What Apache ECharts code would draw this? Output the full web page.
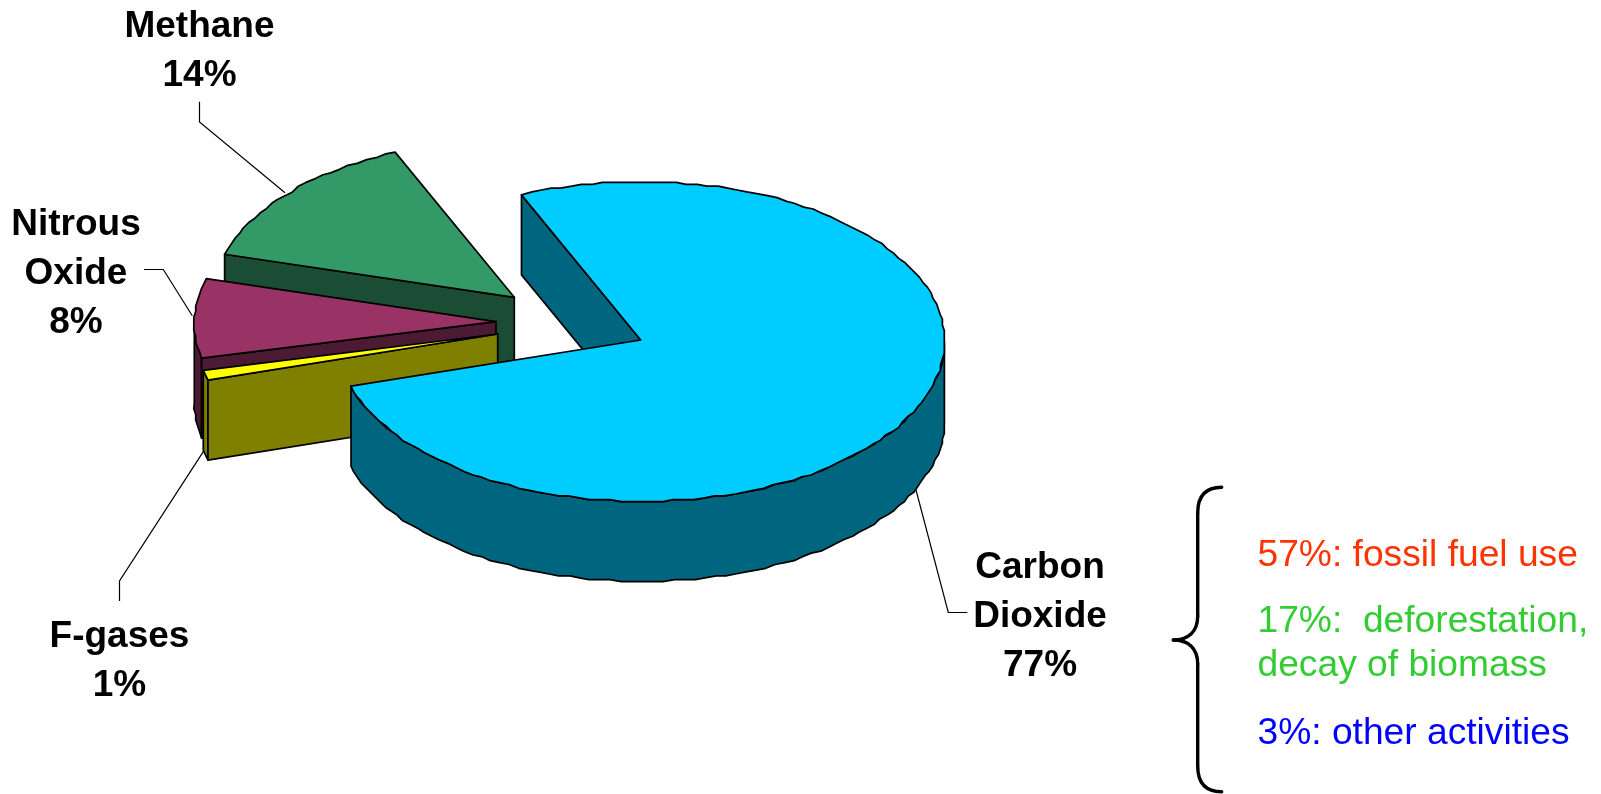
<!DOCTYPE html>
<html>
<head>
<meta charset="utf-8">
<title>Greenhouse gas emissions by gas</title>
<script src="https://cdn.jsdelivr.net/npm/echarts@6/dist/echarts.min.js"></script>
<style>
  html, body { margin: 0; padding: 0; background: #fff; }
  #chart { width: 1601px; height: 794px; }
</style>
</head>
<body>
<div id="chart"></div>
<script>
// Gas shares in percent, listed clockwise around the pie
var gases = ['Carbon Dioxide', 'F-gases', 'Nitrous Oxide', 'Methane'];
var shares = [77, 1, 8, 14];

// Label wording per gas
var labelLines = [['Carbon', 'Dioxide'], ['F-gases'], ['Nitrous', 'Oxide'], ['Methane']];

// Breakdown of the carbon dioxide share
var co2Parts = [57, 17, 3];
var co2PartTexts = [': fossil fuel use', ':  deforestation,\ndecay of biomass', ': other activities'];

// Pie geometry
var CENTER = [640.7, 340];
var RIM_SHIFT = [1, 1.5];     // the rim ellipse sits slightly off the slice apex
var RX = 302.7, RY = 159.8, DEPTH = 80;
var START_ANGLE = -23.4;
var GRID = 1.9;               // coarse plotting grid that gives the rim its rough edge

var topColors = ['#00CCFF', '#FFFF00', '#993366', '#339966'];
var wallColors = ['#006680', '#808000', '#4D1A33', '#1A4D33'];
var explode = [[0, 0], [-143, -6], [-144.7, -18.3], [-126.4, -42.7]];

var FONT = '"Liberation Sans", Arial, sans-serif';
var total = shares.reduce(function (a, b) { return a + b; }, 0);

function rim(cx, cy, deg, rough) {
  var t = deg * Math.PI / 180;
  var x = cx + RIM_SHIFT[0] + RX * Math.sin(t), y = cy + RIM_SHIFT[1] - RY * Math.cos(t);
  return rough ? [Math.round(x / GRID) * GRID, Math.round(y / GRID) * GRID] : [x, y];
}

// Points along the rim between two angles; the ends stay exact so edges meet cleanly
function arcPoints(cx, cy, a, b) {
  var pts = [rim(cx, cy, a, false)];
  var n = Math.max(1, Math.round((b - a) / 2));
  for (var i = 1; i < n; i++) pts.push(rim(cx, cy, a + (b - a) * i / n, true));
  pts.push(rim(cx, cy, b, false));
  return pts;
}

function face(points, fill) {
  return {
    type: 'polygon',
    shape: { points: points },
    style: { fill: fill, stroke: '#000', lineWidth: 1.7, lineJoin: 'round' },
    silent: true
  };
}

function renderSlice(params, api) {
  var idx = api.value(0);
  var before = 0;
  for (var i = 0; i < idx; i++) before += shares[i];
  var a = START_ANGLE + before / total * 360;
  var b = a + api.value(1) / total * 360;
  var cx = CENTER[0] + explode[idx][0], cy = CENTER[1] + explode[idx][1];
  var apex = [cx, cy];
  var children = [];

  // Outer wall, only where the rim faces the viewer
  var wa = Math.max(a, 90), wb = Math.min(b, 270);
  if (wb > wa) {
    var upper = arcPoints(cx, cy, wa, wb);
    var lower = upper.map(function (p) { return [p[0], p[1] + DEPTH]; }).reverse();
    children.push(face(upper.concat(lower), wallColors[idx]));
  }

  // Cut wall along the slice's leading radial edge
  var edge = rim(cx, cy, a, false);
  children.push(face([apex, edge, [edge[0], edge[1] + DEPTH], [cx, cy + DEPTH]], wallColors[idx]));

  // Top face
  children.push(face([apex].concat(arcPoints(cx, cy, a, b)), topColors[idx]));

  return { type: 'group', children: children };
}

// Thin leader from a label to its slice
function leader(points) {
  return {
    type: 'polyline',
    shape: { points: points },
    style: { stroke: '#000', lineWidth: 1.2, fill: null },
    silent: true
  };
}

function gasLabel(idx, x, top) {
  return {
    type: 'text',
    x: x,
    y: top,
    silent: true,
    style: {
      text: labelLines[idx].concat(shares[idx] + '%').join('\n'),
      font: 'bold 37px ' + FONT,
      lineHeight: 49,
      align: 'center',
      verticalAlign: 'top',
      fill: '#000'
    }
  };
}

function partLabel(i, x, top, color) {
  return {
    type: 'text',
    x: x,
    y: top,
    silent: true,
    style: {
      text: co2Parts[i] + '%' + co2PartTexts[i],
      font: '37.2px ' + FONT,
      lineHeight: 44.6,
      align: 'left',
      verticalAlign: 'top',
      fill: color
    }
  };
}

var BRACE_STYLE = { fill: null, stroke: '#000', lineWidth: 3.4, lineCap: 'round' };

function braceCurve(x1, y1, cpx1, cpy1, cpx2, cpy2, x2, y2) {
  return {
    type: 'bezierCurve',
    shape: { x1: x1, y1: y1, cpx1: cpx1, cpy1: cpy1, cpx2: cpx2, cpy2: cpy2, x2: x2, y2: y2 },
    style: BRACE_STYLE,
    silent: true
  };
}

function braceBar(y1, y2) {
  return {
    type: 'line',
    shape: { x1: 1197.7, y1: y1, x2: 1197.7, y2: y2 },
    style: BRACE_STYLE,
    silent: true
  };
}

var chart = echarts.init(document.getElementById('chart'), null, { renderer: 'canvas' });
chart.setOption({
  animation: false,
  backgroundColor: '#ffffff',
  series: [{
    type: 'custom',
    coordinateSystem: 'none',
    clip: false,
    silent: true,
    renderItem: renderSlice,
    // Back slices are painted first
    data: gases.map(function (g, i) { return { name: g, value: [i, shares[i]] }; }).reverse()
  }],
  graphic: { elements: [
    leader([[199.5, 101.7], [199.5, 122], [285, 192.7]]),
    leader([[144, 269.5], [163.3, 269.5], [192.3, 315.7]]),
    leader([[119.5, 601], [119.5, 581], [203.3, 451.7]]),
    leader([[916, 490], [948.3, 612.5], [967.3, 612.5]]),
    gasLabel(3, 199.5, 2),
    gasLabel(2, 76, 200),
    gasLabel(1, 119.5, 612),
    gasLabel(0, 1040, 543),
    braceCurve(1221.7, 487.3, 1206, 487.3, 1197.7, 496, 1197.7, 513),
    braceBar(513, 616),
    braceCurve(1197.7, 616, 1197.7, 632, 1188, 640, 1173.3, 640),
    braceCurve(1173.3, 640, 1188, 640, 1197.7, 648, 1197.7, 664),
    braceBar(664, 766),
    braceCurve(1197.7, 766, 1197.7, 783, 1206, 791.7, 1221.7, 791.7),
    partLabel(0, 1257.5, 533, '#FF3300'),
    partLabel(1, 1257.5, 599, '#33CC33'),
    partLabel(2, 1257.5, 711, '#0000FF')
  ] }
});
</script>
</body>
</html>
